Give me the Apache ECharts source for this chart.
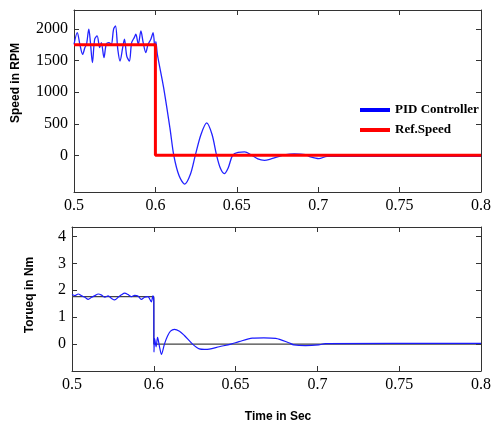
<!DOCTYPE html>
<html>
<head>
<meta charset="utf-8">
<script src="https://cdn.jsdelivr.net/npm/echarts@6/dist/echarts.min.js"></script>
<style>
  html, body { margin: 0; padding: 0; background: #fff; }
  #main { width: 494px; height: 425px; }
</style>
</head>
<body>
<div id="main"></div>
<script>
// x ticks: the picture's first label reads 0.5 although it sits one step before 0.6
const xTickValues = [0.55, 0.6, 0.65, 0.7, 0.75, 0.8];
const xTickLabels = ['0.5', '0.6', '0.65', '0.7', '0.75', '0.8'];
const speedTicks = [0, 500, 1000, 1500, 2000];
const torqueTicks = [0, 1, 2, 3, 4];

// speed, PID controller
const pidTime = [0.55, 0.552, 0.5536, 0.5553, 0.5567, 0.5577, 0.5591, 0.5601, 0.5613, 0.5627, 0.5642, 0.5658, 0.5668, 0.5684, 0.5698,
  0.5714, 0.5729, 0.5743, 0.5755, 0.5769, 0.5783, 0.5799, 0.581, 0.5824, 0.584, 0.5854, 0.587, 0.588, 0.5895, 0.5911, 0.5925,
  0.5941, 0.5955, 0.5972, 0.5986, 0.5998, 0.6003, 0.6012, 0.605, 0.609, 0.6113, 0.6145, 0.618, 0.6215, 0.6245, 0.628, 0.6315,
  0.6348, 0.6376, 0.64, 0.6423, 0.6447, 0.6474, 0.6508, 0.6548, 0.6587, 0.6629, 0.667, 0.671, 0.675, 0.6791, 0.6852, 0.6922,
  0.6953, 0.7004, 0.7054, 0.7095, 0.8];
const pidSpeed = [1757, 1943, 1757, 1598, 1705, 1757, 1995, 1784, 1467, 1837, 1889, 1705, 1784, 1546, 1757,
  1784, 1757, 1995, 2048, 1678, 1492, 1705, 1837, 1571, 1492, 1784, 1863, 1916, 1757, 1968, 1784,
  1625, 1757, 1837, 1943, 1650, 1800, 1600, 1080, 420, 0, -320, -454, -300, 0, 330, 514,
  330, 0, -210, -290, -200, 0, 48, 54, 11, -57, -79, -57, -25, 6, 22, 10,
  -25, -52, -16, -15, -15];

// speed, reference
const refTime = [0.55, 0.6, 0.6, 0.8];
const refSpeed = [1750, 1750, 0, 0];

// torque, PID controller
const torqueTime = [0.55, 0.5518, 0.5538, 0.5559, 0.5579, 0.5599, 0.562, 0.564, 0.566, 0.5681, 0.5701, 0.5721, 0.5741, 0.5761,
  0.5782, 0.5802, 0.5822, 0.5842, 0.5863, 0.5883, 0.5903, 0.5924, 0.5944, 0.5964, 0.5985, 0.5994, 0.6, 0.6001, 0.6005,
  0.6014, 0.6023, 0.6035, 0.6047, 0.6065, 0.6084, 0.6102, 0.6126, 0.6157, 0.6187, 0.6237, 0.6278, 0.6309, 0.6339, 0.64,
  0.6471, 0.6521, 0.6602, 0.6673, 0.6745, 0.6825, 0.6856, 0.6927, 0.7008, 0.7049, 0.8];
const torqueVal = [1.84, 1.8, 1.86, 1.79, 1.74, 1.66, 1.74, 1.8, 1.86, 1.82, 1.74, 1.79, 1.7, 1.64,
  1.74, 1.83, 1.89, 1.84, 1.76, 1.81, 1.79, 1.66, 1.74, 1.76, 1.57, 1.79, 1.6, -0.3, 0.2,
  -0.1, 0.25, -0.1, -0.38, 0.0, 0.3, 0.48, 0.55, 0.48, 0.32, 0.0, -0.18, -0.2, -0.19, -0.1,
  0.0, 0.09, 0.22, 0.23, 0.21, 0.05, -0.03, -0.06, -0.03, 0.02, 0.03];

// torque, reference
const torqueRefTime = [0.55, 0.6, 0.6, 0.8];
const torqueRefVal = [1.76, 1.76, 0, 0];

const pairs = (xs, ys) => xs.map((x, i) => [x, ys[i]]);
const xLabel = v => {
  const i = xTickValues.findIndex(t => Math.abs(t - v) < 1e-6);
  return i < 0 ? '' : xTickLabels[i];
};

const axisColor = '#333';

// one grid gets four axes so that it looks like a closed box with inward ticks
const makeX = (grid, pos) => ({
  type: 'value', gridIndex: grid, position: pos, min: 0.55, max: 0.8,
  axisLine: { show: true, onZero: false, lineStyle: { color: axisColor, width: 1 } },
  axisTick: { show: true, inside: true, length: 5, customValues: xTickValues, lineStyle: { color: axisColor } },
  axisLabel: {
    show: pos === 'bottom', margin: 6, customValues: xTickValues, formatter: xLabel,
    showMaxLabel: true, showMinLabel: true,
    fontFamily: '"Liberation Serif", "Times New Roman", serif', fontSize: 16, color: '#000'
  },
  splitLine: { show: false }
});
const makeY = (grid, pos, min, max, ticks) => ({
  type: 'value', gridIndex: grid, position: pos, min: min, max: max,
  axisLine: { show: true, onZero: false, lineStyle: { color: axisColor, width: 1 } },
  axisTick: { show: true, inside: true, length: 5, customValues: ticks, lineStyle: { color: axisColor } },
  axisLabel: {
    show: pos === 'left', margin: 6, customValues: ticks, formatter: v => String(v),
    fontFamily: '"Liberation Serif", "Times New Roman", serif', fontSize: 16, color: '#000'
  },
  splitLine: { show: false }
});

const chart = echarts.init(document.getElementById('main'));
chart.setOption({
  animation: false,
  backgroundColor: '#fff',
  grid: [
    { left: 74, top: 10, width: 413, height: 182 },
    { left: 72, top: 227, width: 412, height: 144 }
  ],
  xAxis: [makeX(0, 'bottom'), makeX(0, 'top'), makeX(1, 'bottom'), makeX(1, 'top')],
  yAxis: [
    makeY(0, 'left', -580, 2300, speedTicks),
    makeY(0, 'right', -580, 2300, speedTicks),
    makeY(1, 'left', -1, 4.35, torqueTicks),
    makeY(1, 'right', -1, 4.35, torqueTicks)
  ],
  legend: {
    orient: 'vertical', left: 355, top: 98, itemWidth: 30, itemHeight: 4, itemGap: 6,
    icon: 'rect',
    textStyle: { fontFamily: 'Liberation Serif', fontWeight: 'bold', fontSize: 13, color: '#000', lineHeight: 14 },
    data: ['PID Controller', 'Ref.Speed']
  },
  graphic: [
    { type: 'text', x: 16, y: 83, rotation: Math.PI / 2,
      style: { text: 'Speed in RPM', font: 'bold 12px "Liberation Sans"', fill: '#000', align: 'center', verticalAlign: 'middle' } },
    { type: 'text', x: 30, y: 295, rotation: Math.PI / 2,
      style: { text: 'Torueq in Nm', font: 'bold 12px "Liberation Sans"', fill: '#000', align: 'center', verticalAlign: 'middle' } },
    { type: 'text', x: 278, y: 417,
      style: { text: 'Time in Sec', font: 'bold 12px "Liberation Sans"', fill: '#000', align: 'center', verticalAlign: 'middle' } }
  ],
  series: [
    {
      name: 'PID Controller', type: 'line', xAxisIndex: 0, yAxisIndex: 0,
      data: pairs(pidTime, pidSpeed), smooth: 0.3, showSymbol: false,
      itemStyle: { color: '#0000ff' }, lineStyle: { color: '#2323ff', width: 1.3 }
    },
    {
      name: 'Ref.Speed', type: 'line', xAxisIndex: 0, yAxisIndex: 0,
      data: pairs(refTime, refSpeed), showSymbol: false,
      itemStyle: { color: '#ff0000' }, lineStyle: { color: '#ff0000', width: 3 }
    },
    {
      name: 'Torque ref', type: 'line', xAxisIndex: 2, yAxisIndex: 2,
      data: pairs(torqueRefTime, torqueRefVal), showSymbol: false,
      lineStyle: { color: '#444', width: 1.2 }
    },
    {
      name: 'Torque', type: 'line', xAxisIndex: 2, yAxisIndex: 2,
      data: pairs(torqueTime, torqueVal), smooth: 0.3, showSymbol: false,
      lineStyle: { color: '#1a1aff', width: 1.2 }
    }
  ]
});
</script>
</body>
</html>
